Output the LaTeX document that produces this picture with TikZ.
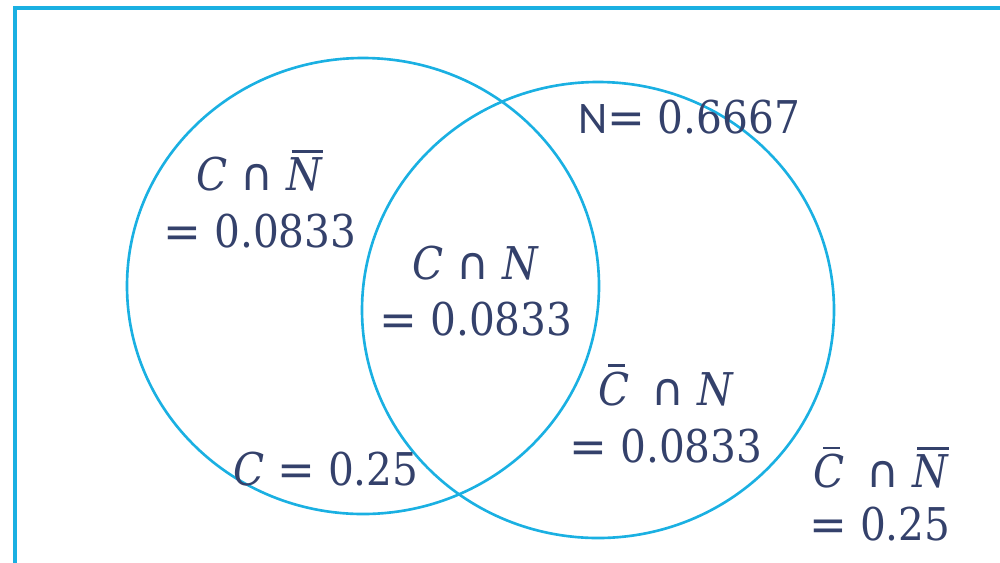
\documentclass[tikz,border=0pt]{standalone}
\usepackage{fontspec}
\setmainfont{DejaVu Serif Condensed}[ItalicFont={DejaVu Serif Condensed Italic}]
\newfontfamily\carlito{Carlito}
\newfontfamily\dsans{DejaVu Sans}
\definecolor{vblue}{HTML}{1AB0E2}
\definecolor{vtext}{HTML}{34416B}
\newcommand\ovl[1]{\setbox0\hbox{#1}\leavevmode\rlap{\kern0.14\wd0\raisebox{\dimexpr\ht0+0.1em\relax}{\rule{0.86\wd0}{0.055em}}}\box0}
\newcommand\cbr[1]{\setbox0\hbox{#1}\leavevmode\rlap{\kern0.32\wd0\raisebox{\dimexpr\ht0+0.1em\relax}{\rule{0.55\wd0}{0.055em}}}\box0}
\newcommand\cp{{\dsans ∩}}
\newcommand\eq{{\dsans =}}
\begin{document}
\begin{tikzpicture}[x=0.02cm,y=-0.02cm,
  lab/.style={text=vtext,align=center,inner sep=0pt,font=\fontsize{25.7}{32}\selectfont},
  venn/.style={draw=vblue,line width=1.5pt}]
\clip (0,0) rectangle (1000,562);
\useasboundingbox (0,0) rectangle (1000,562);
\draw[draw=vblue,line width=1.8pt] (15,8) rectangle (1020,580);
\draw[venn] (363,286) ellipse [x radius=236, y radius=228];
\draw[venn] (598,310) ellipse [x radius=236, y radius=228];
\node[lab,anchor=base] (cnn1) at (260,190) {\textit{C} \cp{} \ovl{\textit{N}}};
\node[lab,anchor=base] (cnn2) at (260,247) {\eq{} 0.0833};
\node[lab,anchor=base] (cn1) at (476,279) {\textit{C} \cp{} \textit{N}};
\node[lab,anchor=base] (cn2) at (476,335) {\eq{} 0.0833};
\node[lab,anchor=base] (nn) at (689,133) {{\carlito N}\eq{} 0.6667};
\node[lab,anchor=base] (ccn1) at (666,405) {\cbr{\textit{C}}\hspace{0.2em} \cp{} \textit{N}};
\node[lab,anchor=base] (ccn2) at (666,462) {\eq{} 0.0833};
\node[lab,anchor=base] (c) at (326,485) {\textit{C} \eq{} 0.25};
\node[lab,anchor=base] (ccnn1) at (881,487) {\cbr{\textit{C}}\hspace{0.2em} \cp{} \ovl{\textit{N}}};
\node[lab,anchor=base] (ccnn2) at (880,540) {\eq{} 0.25};
\end{tikzpicture}
\end{document}
